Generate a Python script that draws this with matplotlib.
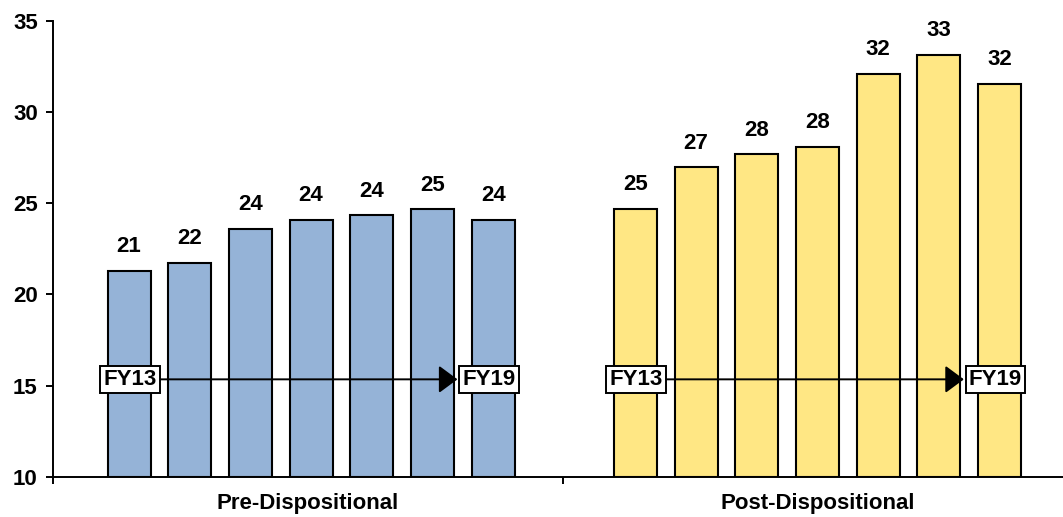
import matplotlib.pyplot as plt

categories = ['Pre-Dispositional', 'Post-Dispositional']
pre_values = [21.3, 21.75, 23.57, 24.06, 24.33, 24.66, 24.06]
post_values = [24.7, 26.96, 27.67, 28.1, 32.1, 33.1, 31.55]
pre_labels = ['21', '22', '24', '24', '24', '25', '24']
post_labels = ['25', '27', '28', '28', '32', '33', '32']
year_start = 'FY13'
year_end = 'FY19'
arrow_level = 15.35

plt.rcParams['font.family'] = ['Liberation Sans', 'DejaVu Sans']
plt.rcParams['font.weight'] = 'bold'

fig = plt.figure(figsize=(10.63, 5.17), dpi=100)
ax = fig.add_axes([0.0499, 0.0774, 0.9595, 0.8826])

step = 0.119
width = 0.0843
fs = 16
groups = [(0.506, pre_values, pre_labels, '#95B3D7'),
          (1.499, post_values, post_labels, '#FFE784')]

for center, vals, labs, col in groups:
    xs = [center + (i - 3) * step for i in range(len(vals))]
    ax.bar(xs, [v - 10 for v in vals], bottom=10, width=width,
           color=col, edgecolor='black', linewidth=1.5, zorder=2)
    for x, v, t in zip(xs, vals, labs):
        ax.annotate(t, (x, v), xytext=(0, 10), textcoords='offset points',
                    ha='center', va='bottom', fontsize=fs, fontweight='bold')
    # arrow FY13 -> FY19
    x0 = xs[0] + 0.002
    x1 = xs[-1] - 0.008
    ax.annotate('', xy=(x1 - 0.062, arrow_level), xytext=(x0 + 0.055, arrow_level),
                arrowprops=dict(arrowstyle='-|>,head_length=1.15,head_width=0.85',
                                color='black', lw=1.4, shrinkA=0, shrinkB=0),
                zorder=4)
    box = dict(boxstyle='square,pad=0.15', facecolor='white', edgecolor='black', lw=1.4)
    ax.text(x0, arrow_level, year_start, ha='center', va='center', fontsize=fs,
            fontweight='bold', bbox=box, zorder=5)
    ax.text(x1, arrow_level, year_end, ha='center', va='center', fontsize=fs,
            fontweight='bold', bbox=box, zorder=5)

ax.set_xlim(0, 2)
ax.set_ylim(10, 35)
ax.set_yticks([10, 15, 20, 25, 30, 35])
ax.set_xticks([0, 1, 2])
ax.set_xticklabels(['', '', ''])
ax.tick_params(axis='y', labelsize=fs, length=5, width=1.4, direction='out', pad=6)
ax.tick_params(axis='x', length=5, width=1.4, direction='out')
for lab in ax.get_yticklabels():
    lab.set_fontweight('bold')
for i, c in enumerate(categories):
    ax.text(i + 0.5, -0.035, c, transform=ax.get_xaxis_transform(), ha='center',
            va='top', fontsize=fs, fontweight='bold')

ax.spines['top'].set_visible(False)
ax.spines['right'].set_visible(False)
ax.spines['left'].set_linewidth(1.4)
ax.spines['bottom'].set_linewidth(1.4)

fig.savefig('out.png', dpi=100)
